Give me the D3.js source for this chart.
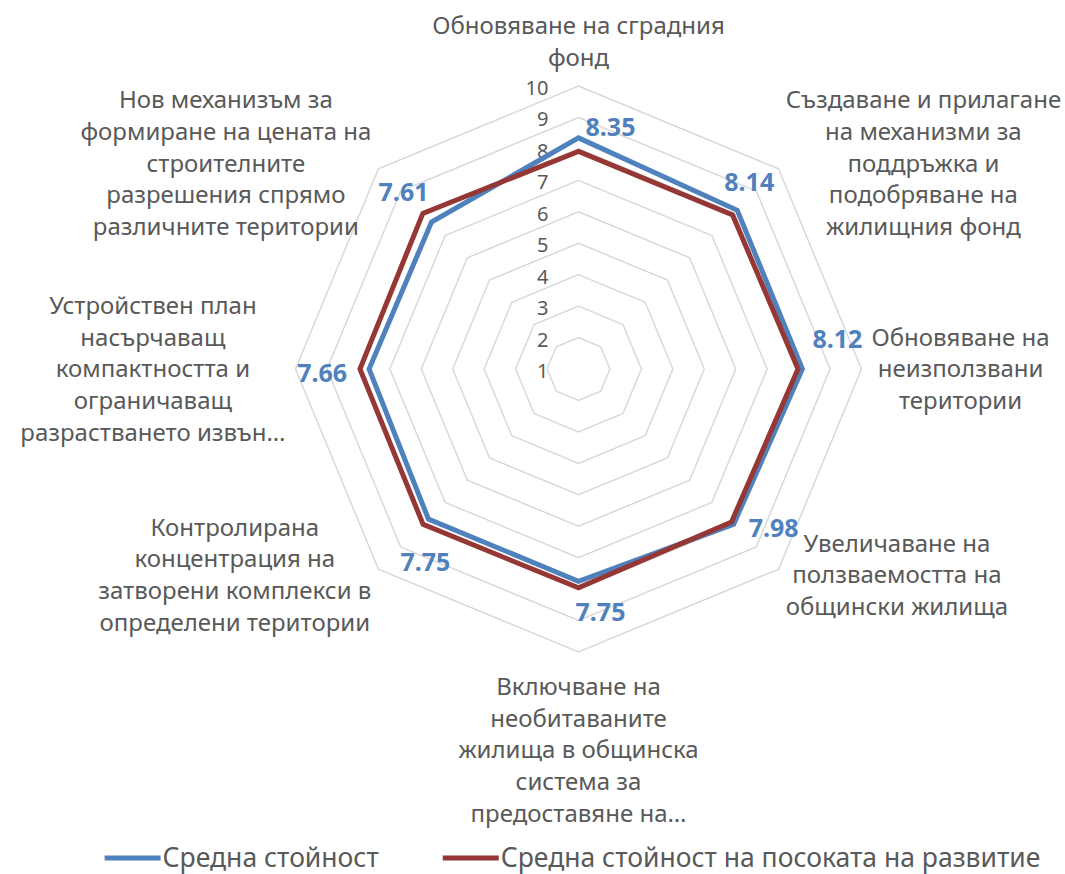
<!DOCTYPE html>
<html lang="bg">
<head>
<meta charset="utf-8">
<script src="https://cdn.jsdelivr.net/npm/d3@7"></script>
<style>
  html, body { margin: 0; padding: 0; background: #fff; }
  svg { display: block; font-family: "Noto Sans", "Open Sans", sans-serif; }
  .grid { fill: none; stroke: #d9d9d9; stroke-width: 1.5; }
  .cat { fill: #595959; font-size: 24px; }
  .tick { fill: #595959; font-size: 20px; }
  .val { fill: #4f81bd; font-size: 25px; font-weight: 700; }
  .legend text { fill: #595959; font-size: 26.5px; }
</style>
</head>
<body>
<svg id="chart" width="1065" height="874"></svg>
<script>
// радарна диаграма: средна стойност по мерки

const categories = [
  ["Обновяване на сградния", "фонд"],
  ["Създаване и прилагане", "на механизми за", "поддръжка и", "подобряване на", "жилищния фонд"],
  ["Обновяване на", "неизползвани", "територии"],
  ["Увеличаване на", "ползваемостта на", "общински жилища"],
  ["Включване на", "необитаваните", "жилища в общинска", "система за", "предоставяне на…"],
  ["Контролирана", "концентрация на", "затворени комплекси в", "определени територии"],
  ["Устройствен план", "насърчаващ", "компактността и", "ограничаващ", "разрастването извън…"],
  ["Нов механизъм за", "формиране на цената на", "строителните", "разрешения спрямо", "различните територии"],
];
const seriesNames = ["Средна стойност", "Средна стойност на посоката на развитие"];
const avgValues = [8.35, 8.14, 8.12, 7.98, 7.75, 7.75, 7.66, 7.61];
const directionValues = [7.92, 7.93, 7.98, 7.88, 7.96, 7.99, 7.95, 8.0];
const tickValues = [1, 2, 3, 4, 5, 6, 7, 8, 9, 10];

// ---------- оформление ----------
const COLOR = ["#4f81bd", "#953735"];
const CX = 578.5, CY = 369, R = 283;
const LINE_H = 31.6;
// къде стои етикетът със стойност спрямо точката (dx, dy)
const VALUE_NUDGE = [[32, -11], [12, -28], [35, -30], [40, 4], [22, 31], [-3, 43], [-47, 4], [-28, -30]];

const svg = d3.select("#chart");
const g = svg.append("g").attr("transform", `translate(${CX},${CY})`);

const r = d3.scaleLinear().domain([1, 10]).range([0, R]);
const angle = d3.scaleLinear().domain([0, categories.length]).range([0, 2 * Math.PI]);
const pt = (i, v) => [Math.sin(angle(i)) * r(v), -Math.cos(angle(i)) * r(v)];

// мрежа от осмоъгълници
const ring = d3.line().curve(d3.curveLinearClosed);
g.append("g")
  .selectAll("path")
  .data(tickValues.filter((t) => t > 1))
  .join("path")
  .attr("class", "grid")
  .attr("d", (t) => ring(categories.map((_, i) => pt(i, t))));

// стойности по оста
g.append("g")
  .selectAll("text")
  .data(tickValues)
  .join("text")
  .attr("class", "tick")
  .attr("x", -30)
  .attr("y", (t) => -r(t) + 2)
  .attr("dy", "0.35em")
  .attr("text-anchor", "end")
  .text((t) => t);

// серии (червената отгоре)
const series = [avgValues, directionValues];
const radar = d3.lineRadial().angle((d, i) => angle(i)).radius((d) => r(d)).curve(d3.curveLinearClosed);
g.append("g")
  .selectAll("path")
  .data(series)
  .join("path")
  .attr("d", radar)
  .attr("fill", "none")
  .attr("stroke", (d, i) => COLOR[i])
  .attr("stroke-width", 5)
  .attr("stroke-linejoin", "miter");

// етикети на стойностите
g.append("g")
  .selectAll("text")
  .data(avgValues)
  .join("text")
  .attr("class", "val")
  .attr("x", (d, i) => pt(i, d)[0] + VALUE_NUDGE[i][0])
  .attr("y", (d, i) => pt(i, d)[1] + VALUE_NUDGE[i][1])
  .attr("dy", "0.35em")
  .attr("text-anchor", "middle")
  .text((d) => d.toFixed(2));

// етикети на категориите
const catG = g.append("g").selectAll("g").data(categories).join("g");
catG.each(function (lines, i) {
  const grp = d3.select(this);
  const t = grp
    .selectAll("text")
    .data(lines)
    .join("text")
    .attr("class", "cat")
    .attr("text-anchor", "middle")
    .attr("dy", "0.35em")
    .text((d) => d);
  const w = d3.max(t.nodes(), (n) => n.getComputedTextLength());
  const h = lines.length * LINE_H;
  const a = angle(i);
  const dx = Math.sin(a), dy = -Math.cos(a);
  const [vx, vy] = pt(i, 10);
  let bx, by; // център на блока
  if (Math.abs(dx) < 0.1) {
    bx = vx;
    by = dy < 0 ? vy - 13 - h / 2 : vy + 19 + h / 2;
  } else {
    const px = vx + dx * 10;
    bx = dx > 0 ? px + w / 2 : px - w / 2;
    by = vy + dy * 8;
  }
  t.attr("x", bx).attr("y", (d, k) => by - h / 2 + LINE_H * (k + 0.5));
});

// легенда
const legend = svg.append("g").attr("class", "legend");
const items = legend.selectAll("g").data(seriesNames).join("g");
items
  .append("line")
  .attr("x1", 0)
  .attr("x2", 56)
  .attr("stroke", (d, i) => COLOR[i])
  .attr("stroke-width", 5);
items
  .append("text")
  .attr("x", 58)
  .attr("dy", "0.35em")
  .text((d) => d);
let x = 0;
items.each(function () {
  d3.select(this).attr("transform", `translate(${x},0)`);
  x += 58 + this.querySelector("text").getComputedTextLength() + 64;
});
const legendW = x - 64;
legend.attr("transform", `translate(${572.5 - legendW / 2},858)`);
</script>
</body>
</html>
